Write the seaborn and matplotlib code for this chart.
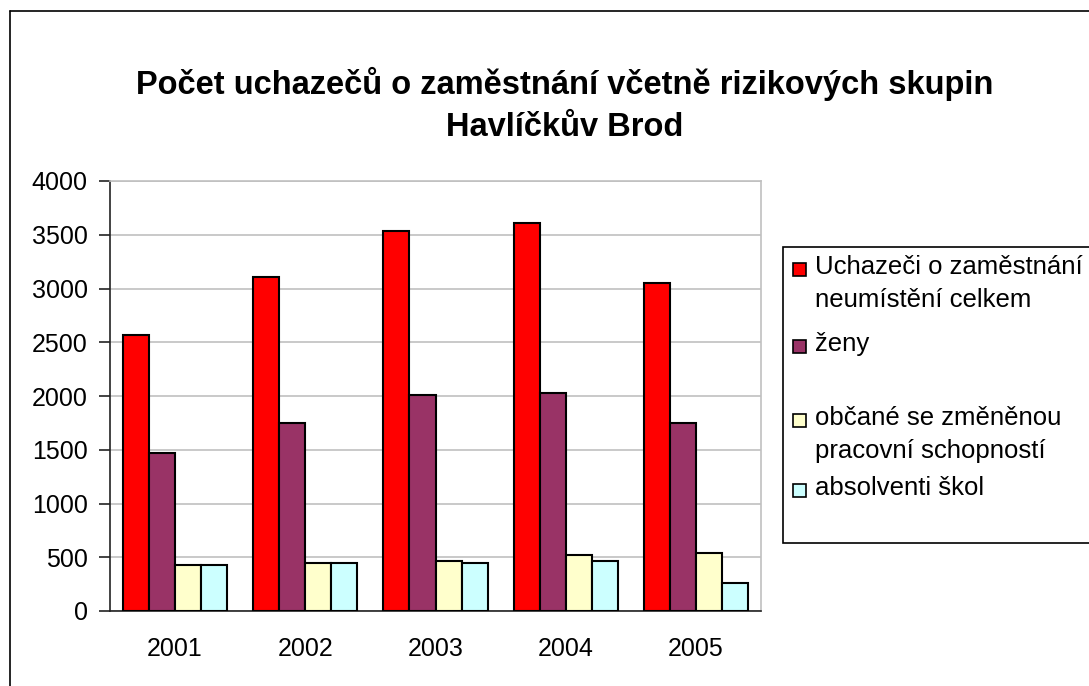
import pandas as pd
import matplotlib
matplotlib.use("Agg")
import matplotlib.pyplot as plt
import seaborn as sns
from matplotlib.patches import Rectangle
from matplotlib.lines import Line2D

# data
roky = ["2001", "2002", "2003", "2004", "2005"]
skupiny = [
    "Uchazeči o zaměstnání\nneumístění celkem",
    "ženy",
    "občané se změněnou\npracovní schopností",
    "absolventi škol",
]
celkem = [2570, 3107, 3535, 3612, 3051]
zeny = [1470, 1749, 2009, 2031, 1749]
zps = [428, 447, 468, 521, 536]
absolventi = [428, 447, 447, 468, 260]
barvy = ["#FF0000", "#993366", "#FFFFCC", "#CCFFFF"]

W, H = 1089, 686


def fx(x):
    return x / W


def fy(y):
    return 1 - y / H


sns.set_style("white")
plt.rcParams["font.family"] = ["Liberation Sans", "DejaVu Sans"]
plt.rcParams["text.color"] = "black"
plt.rcParams["xtick.color"] = "black"
plt.rcParams["ytick.color"] = "black"

# long table for seaborn
rows = []
for serie, vals in zip(skupiny, [celkem, zeny, zps, absolventi]):
    for rok, v in zip(roky, vals):
        rows.append({"rok": rok, "skupina": serie, "pocet": v})
df = pd.DataFrame(rows)

fig = plt.figure(figsize=(W / 100, H / 100), dpi=100)
ax = fig.add_axes([fx(110), fy(611), fx(761) - fx(110), fy(181) - fy(611)])

sns.barplot(data=df, x="rok", y="pocet", hue="skupina", hue_order=skupiny,
            order=roky, palette=barvy, saturation=1, edgecolor="black",
            linewidth=1.5, width=0.8, ax=ax, legend=False, zorder=3)

ax.set_ylim(0, 4000)
ax.set_xlim(-0.5, len(roky) - 0.5)
ax.set_yticks(range(0, 4001, 500))
ax.yaxis.grid(True, color="#c0c0c0", linewidth=1.2, zorder=0)
ax.set_axisbelow(True)
ax.set_xlabel("")
ax.set_ylabel("")

# year labels centred, ticks between categories
ax.set_xticks(range(len(roky)))
ax.set_xticklabels(roky)
ax.set_xticks([i - 0.5 for i in range(len(roky) + 1)], minor=True)
ax.tick_params(axis="x", which="major", length=0, pad=19, labelsize=18)
ax.tick_params(axis="x", which="minor", length=8, width=1.2, direction="out",
               color="#222222")
ax.tick_params(axis="y", length=8, width=1.2, direction="out", pad=8,
               labelsize=18, color="#222222", left=True)

for side in ["left", "bottom"]:
    ax.spines[side].set_color("#222222")
    ax.spines[side].set_linewidth(1.2)
for side in ["top", "right"]:
    ax.spines[side].set_visible(True)
    ax.spines[side].set_color("#c0c0c0")
    ax.spines[side].set_linewidth(1.2)

fig.text(fx(565), fy(105),
         "Počet uchazečů o zaměstnání včetně rizikových skupin\nHavlíčkův Brod",
         ha="center", va="center", fontsize=23.5, fontweight="bold",
         linespacing=1.45)

# chart frame (clipped at right and bottom like the original)
fig.add_artist(Line2D([fx(10), fx(10)], [fy(11), 0], color="black", lw=1.2))
fig.add_artist(Line2D([fx(10), 1], [fy(11), fy(11)], color="black", lw=1.2))

# legend box with marker on first line of each entry
fig.add_artist(Rectangle((fx(783), fy(543)), 1 - fx(783) + 0.01,
                         fy(247) - fy(543), transform=fig.transFigure,
                         facecolor="white", edgecolor="black", lw=1.2))
legend_y = [269, 346, 420, 490]
for serie, barva, y in zip(skupiny, barvy, legend_y):
    fig.add_artist(Rectangle((fx(793), fy(y + 6.5)), fx(13), fy(0) - fy(13),
                             transform=fig.transFigure, facecolor=barva,
                             edgecolor="black", lw=1.2))
    fig.text(fx(815), fy(y - 14), serie, ha="left", va="top", fontsize=18.5,
             linespacing=1.45)

fig.savefig("out.png", dpi=100)
